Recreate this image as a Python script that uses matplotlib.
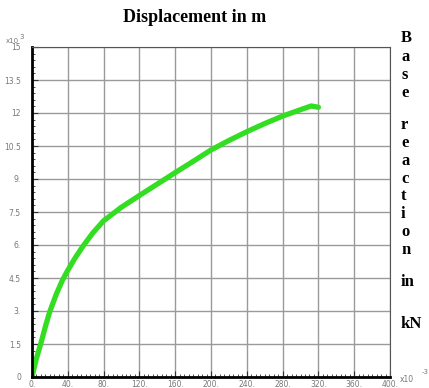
import matplotlib.pyplot as plt
from matplotlib.ticker import MultipleLocator, FixedLocator

# displacement (x10^-3 m) and base reaction (x10^3 kN)
disp = [0, 5, 10.4, 15, 19.7, 27, 34, 40, 48, 57, 68, 80, 100, 120, 140,
        160, 180, 200, 220, 240, 260, 280, 300, 312, 320]
reaction = [0, 0.85, 1.6, 2.3, 2.95, 3.75, 4.4, 4.85, 5.4, 5.95, 6.55, 7.1,
            7.72, 8.25, 8.77, 9.29, 9.8, 10.32, 10.75, 11.15, 11.52, 11.86,
            12.15, 12.32, 12.26]

x_ticks = [0, 40, 80, 120, 160, 200, 240, 280, 320, 360, 400]
x_labels = ["0.", "40.", "80.", "120.", "160.", "200.", "240.", "280.", "320.", "360.", "400."]
y_ticks = [0, 1.5, 3, 4.5, 6, 7.5, 9, 10.5, 12, 13.5, 15]
y_labels = ["0", "1.5", "3.", "4.5", "6.", "7.5", "9.", "10.5", "12", "13.5", "15"]

fig = plt.figure(figsize=(4.29, 3.88), dpi=100)
ax = fig.add_axes([32 / 429, 11 / 388, 358 / 429, 330 / 388])

ax.plot(disp, reaction, color="#33dd22", linewidth=3.8, solid_capstyle="round",
        solid_joinstyle="round")

ax.set_xlim(0, 400)
ax.set_ylim(0, 15)
ax.xaxis.set_major_locator(FixedLocator(x_ticks))
ax.yaxis.set_major_locator(FixedLocator(y_ticks))
ax.set_xticklabels(x_labels)
ax.set_yticklabels(y_labels)
ax.xaxis.set_minor_locator(MultipleLocator(5))
ax.yaxis.set_minor_locator(MultipleLocator(0.3))
ax.grid(True, which="major", color="#9a9a9a", linewidth=1.0)
ax.tick_params(which="both", direction="in", labelsize=5.5, labelcolor="#777777",
               color="#333333")
ax.tick_params(which="major", length=4)
ax.tick_params(which="minor", length=2.5)
ax.tick_params(axis="x", top=False, pad=2)
ax.tick_params(axis="y", right=False, pad=8)
ax.spines["left"].set_linewidth(2.0)
ax.spines["bottom"].set_linewidth(2.0)
ax.spines["top"].set_color("#555555")
ax.spines["right"].set_color("#555555")

fig.text(195 / 429, 1 - 18 / 388, "Displacement in m", ha="center", va="center",
         fontsize=13, fontweight="bold", family="Liberation Serif")

letters = [("B", 38), ("a", 57), ("s", 75), ("e", 93), ("r", 125), ("e", 143),
           ("a", 161), ("c", 179), ("t", 196), ("i", 214), ("o", 232), ("n", 250),
           ("in", 282), ("kN", 324)]
for s, yy in letters:
    fig.text(401 / 429, 1 - yy / 388, s, ha="left", va="center", fontsize=12,
             fontweight="bold", family="Liberation Serif")

fig.text(6 / 429, 1 - 41 / 388, "x10", fontsize=5, color="#777777", va="center")
fig.text(19 / 429, 1 - 37 / 388, "3", fontsize=5, color="#777777", va="center")
fig.text(400 / 429, 1 - 380 / 388, "x10", fontsize=5.5, color="#777777", va="center")
fig.text(422 / 429, 1 - 372 / 388, "-3", fontsize=5, color="#777777", va="center")

fig.savefig("out.png", dpi=100)
